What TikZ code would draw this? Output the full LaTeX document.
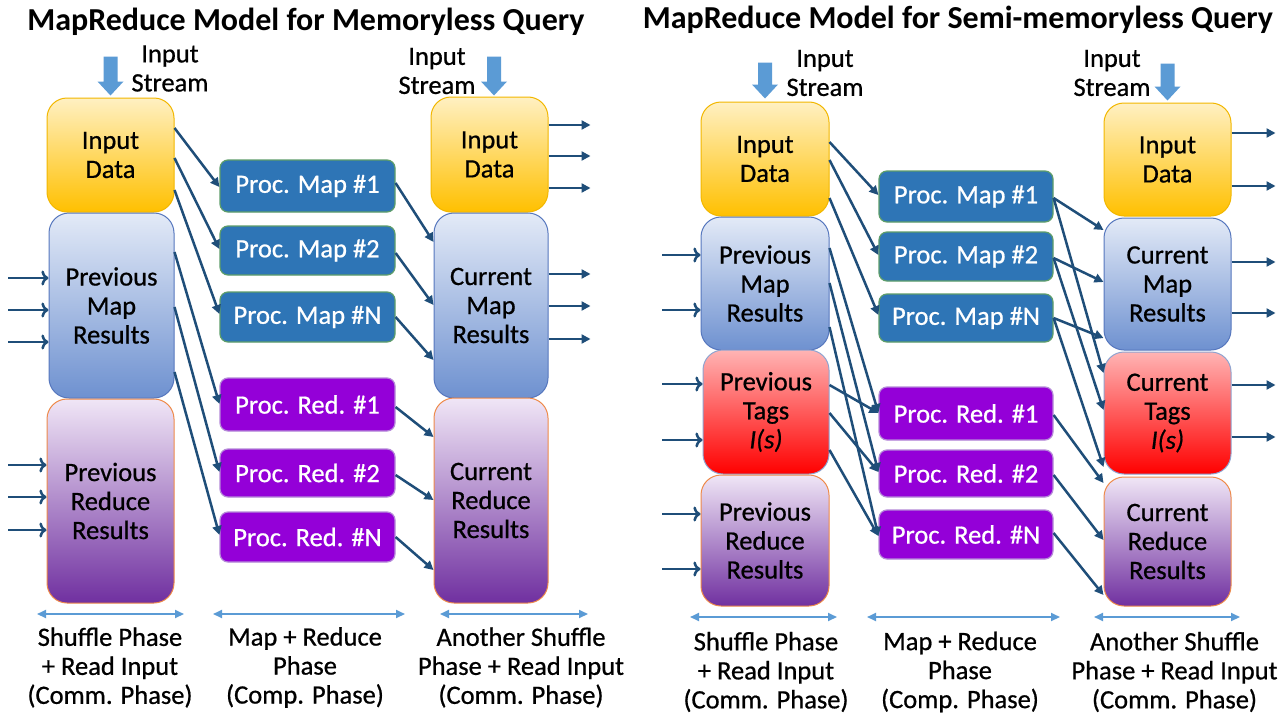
\documentclass[tikz,border=0pt]{standalone}
\usepackage{fontspec}
\setmainfont{Carlito}
\newfontfamily\heavy{Carlito}[FakeBold=0.7]
\usetikzlibrary{arrows.meta}
\definecolor{conncol}{HTML}{1F4E79}
\definecolor{phasec}{HTML}{5B9BD5}
\definecolor{mapfill}{HTML}{2E75B6}
\definecolor{mapdraw}{HTML}{5E9E6A}
\definecolor{redfill}{HTML}{9400D8}
\definecolor{reddraw}{HTML}{B58AD8}
\definecolor{ytop}{HTML}{FFF0C2}
\definecolor{ybot}{HTML}{FFC000}
\definecolor{ydraw}{HTML}{F2B700}
\definecolor{btop}{HTML}{E3EAF7}
\definecolor{bbot}{HTML}{6E91D0}
\definecolor{bdraw}{HTML}{5677BE}
\definecolor{ptop}{HTML}{F0E6F6}
\definecolor{pbot}{HTML}{7030A0}
\definecolor{pdraw}{HTML}{EE8A4A}
\definecolor{rtop}{HTML}{FFB4B4}
\definecolor{rbot}{HTML}{FF0000}
\definecolor{rdraw}{HTML}{8FA4D0}
\begin{document}
\begin{tikzpicture}[x=1pt,y=-1pt,
  txt/.style={font=\heavy\fontsize{26.5}{29}\selectfont, align=center},
  big/.style={txt, rounded corners=20pt, line width=1pt, inner sep=0pt},
  ybox/.style={big, draw=ydraw, top color=ytop, bottom color=ybot},
  bbox/.style={big, draw=bdraw, top color=btop, bottom color=bbot},
  pbox/.style={big, draw=pdraw, top color=ptop, bottom color=pbot},
  rbox/.style={big, draw=rdraw, top color=rtop, bottom color=rbot},
  proc/.style={txt, text=white, rounded corners=8pt, line width=1.2pt, minimum width=175pt, inner sep=0pt},
  mapbox/.style={proc, draw=mapdraw, fill=mapfill},
  redbox/.style={proc, draw=reddraw, fill=redfill},
  conn/.style={draw=conncol, line width=2.5pt, -{Triangle[length=9pt,width=9pt]}},
  phase/.style={draw=phasec, line width=2pt, {Triangle[length=9pt,width=8pt]}-{Triangle[length=9pt,width=8pt]}},
  title/.style={font=\bfseries\fontsize{32}{36}\selectfont},
  stream/.style={fill=phasec},
]
\useasboundingbox (0,0) rectangle (1280,720);
\fill[white] (0,0) rectangle (1280,720);

% ================= Diagram 1 =================
\node[title] (t1) at (306,22) {MapReduce Model for Memoryless Query};

\node[ybox, minimum width=127pt, minimum height=114pt] (aL1) at (110.5,155) {Input\\Data};
\node[bbox, minimum width=125pt, minimum height=185pt] (aL2) at (111.5,305.5) {Previous\\Map\\Results};
\node[pbox, minimum width=127pt, minimum height=204pt] (aL3) at (110.5,501) {Previous\\Reduce\\Results};

\node[mapbox, minimum height=52pt] (aM1) at (307.5,186) {Proc. Map \#1};
\node[mapbox, minimum height=49pt] (aM2) at (307.5,250.5) {Proc. Map \#2};
\node[mapbox, minimum height=50pt] (aMN) at (307.5,317) {Proc. Map \#N};
\node[redbox, minimum height=53pt] (aR1) at (307.5,404.5) {Proc. Red. \#1};
\node[redbox, minimum height=48pt] (aR2) at (307.5,473) {Proc. Red. \#2};
\node[redbox, minimum height=50pt] (aRN) at (307.5,537) {Proc. Red. \#N};

\node[ybox, minimum width=117pt, minimum height=115pt] (aC1) at (489.5,154.5) {Input\\Data};
\node[bbox, minimum width=114pt, minimum height=185pt] (aC2) at (491,305.5) {Current\\Map\\Results};
\node[pbox, minimum width=114pt, minimum height=205pt] (aC3) at (491,500.5) {Current\\Reduce\\Results};

% input stream arrows
\fill[stream] (aL1.north) ++(0,-2) -- ++(-13,-14) -- ++(6,0) -- ++(0,-25) -- ++(14,0) -- ++(0,25) -- ++(6,0) -- cycle;
\node[txt] (aS1) at (170,68.5) {Input\\Stream};
\fill[stream] (aC1.north -| 494,0) ++(0,-1) -- ++(-13,-14) -- ++(6,0) -- ++(0,-25) -- ++(14,0) -- ++(0,25) -- ++(6,0) -- cycle;
\node[txt] (aS2) at (437,71) {Input\\Stream};

% connectors left
\draw[conn] (aL1.east |- 0,128) -- (aM1.west |- 0,187);
\draw[conn] (aL1.east |- 0,158) -- (aM2.west |- 0,249);
\draw[conn] (aL1.east |- 0,190) -- (aMN.west |- 0,314);
\draw[conn] (aL2.east |- 0,252) -- (aR1.west |- 0,404);
\draw[conn] (aL2.east |- 0,307) -- (aR2.west |- 0,472);
\draw[conn] (aL2.east |- 0,372) -- (aRN.west |- 0,535);
% connectors right
\draw[conn] (aM1.east |- 0,183) -- (aC2.west |- 0,242);
\draw[conn] (aM2.east |- 0,253) -- (aC2.west |- 0,305);
\draw[conn] (aMN.east |- 0,317) -- (aC2.west |- 0,360);
\draw[conn] (aR1.east |- 0,407) -- (aC3.west |- 0,437);
\draw[conn] (aR2.east |- 0,475) -- (aC3.west |- 0,500);
\draw[conn] (aRN.east |- 0,537) -- (aC3.west |- 0,570);
% incoming
\foreach \yy in {278,310,342} \draw[conn,<-] (aL2.west |- 0,\yy) -- ++(-41,0);
\foreach \yy in {465,497,530} \draw[conn,<-] (aL3.west |- 0,\yy) -- ++(-39,0);
% outgoing
\foreach \yy in {125,156,188} \draw[conn] (aC1.east |- 0,\yy) -- ++(42,0);
\foreach \yy in {274,306,339} \draw[conn] (aC2.east |- 0,\yy) -- ++(42,0);

% phases
\draw[phase] (37,614) -- (184,614);
\draw[phase] (213,614) -- (405,614);
\draw[phase] (440,614) -- (588,614);
\node[txt] (aP1) at (110,667.5) {Shuffle Phase\\+ Read Input\\(Comm. Phase)};
\node[txt] (aP2) at (305,667.5) {Map + Reduce\\Phase\\(Comp. Phase)};
\node[txt] (aP3) at (521,667.5) {Another Shuffle\\Phase + Read Input\\(Comm. Phase)};

% ================= Diagram 2 =================
\node[title] (t2) at (958,20) {MapReduce Model for Semi-memoryless Query};

\node[ybox, minimum width=128pt, minimum height=114pt] (bL1) at (765,159) {Input\\Data};
\node[bbox, minimum width=128pt, minimum height=133pt] (bL2) at (765,283.5) {Previous\\Map\\Results};
\node[rbox, minimum width=126pt, minimum height=124pt] (bL3) at (766,412) {Previous\\Tags\\\textit{I(s)}};
\node[pbox, minimum width=128pt, minimum height=131pt] (bL4) at (765,540.5) {Previous\\Reduce\\Results};

\node[mapbox, minimum width=174pt, minimum height=51pt] (bM1) at (966,196.5) {Proc. Map \#1};
\node[mapbox, minimum width=174pt, minimum height=49pt] (bM2) at (966,256.5) {Proc. Map \#2};
\node[mapbox, minimum width=174pt, minimum height=48pt] (bMN) at (966,318) {Proc. Map \#N};
\node[redbox, minimum width=174pt, minimum height=53pt] (bR1) at (966,413.5) {Proc. Red. \#1};
\node[redbox, minimum width=174pt, minimum height=47pt] (bR2) at (966,473.5) {Proc. Red. \#2};
\node[redbox, minimum width=174pt, minimum height=49pt] (bRN) at (966,534.5) {Proc. Red. \#N};

\node[ybox, minimum width=127pt, minimum height=113pt] (bC1) at (1167.5,159.5) {Input\\Data};
\node[bbox, minimum width=127pt, minimum height=132pt] (bC2) at (1167.5,284) {Current\\Map\\Results};
\node[rbox, minimum width=127pt, minimum height=122pt] (bC3) at (1167.5,413) {Current\\Tags\\\textit{I(s)}};
\node[pbox, minimum width=127pt, minimum height=129pt] (bC4) at (1167.5,541.5) {Current\\Reduce\\Results};

\fill[stream] (bL1.north) ++(0,-3) -- ++(-13,-14) -- ++(6,0) -- ++(0,-22) -- ++(14,0) -- ++(0,22) -- ++(6,0) -- cycle;
\node[txt] (bS1) at (825,73) {Input\\Stream};
\fill[stream] (bC1.north) ++(0,-2) -- ++(-13,-14) -- ++(6,0) -- ++(0,-23) -- ++(14,0) -- ++(0,23) -- ++(6,0) -- cycle;
\node[txt] (bS2) at (1112,73) {Input\\Stream};

% connectors left
\draw[conn] (bL1.east |- 0,142) -- (bM1.west |- 0,195);
\draw[conn] (bL1.east |- 0,160) -- (bM2.west |- 0,255);
\draw[conn] (bL1.east |- 0,198) -- (bMN.west |- 0,315);
\draw[conn] (bL2.east |- 0,248) -- (bR1.west |- 0,413);
\draw[conn] (bL2.east |- 0,283) -- (bR2.west |- 0,472);
\draw[conn] (bL2.east |- 0,327) -- (bRN.west |- 0,536);
\draw[conn] (bL3.east |- 0,385) -- (bR1.west |- 0,413);
\draw[conn] (bL3.east |- 0,413) -- (bR2.west |- 0,472);
\draw[conn] (bL3.east |- 0,450) -- (bRN.west |- 0,536);
% connectors right
\draw[conn] (bM1.east |- 0,198) -- (bC2.west |- 0,230);
\draw[conn] (bM1.east |- 0,198) -- (bC3.west |- 0,373);
\draw[conn] (bM2.east |- 0,258) -- (bC2.west |- 0,282);
\draw[conn] (bM2.east |- 0,258) -- (bC3.west |- 0,410);
\draw[conn] (bMN.east |- 0,318) -- (bC2.west |- 0,338);
\draw[conn] (bMN.east |- 0,318) -- (bC3.west |- 0,467);
\draw[conn] (bR1.east |- 0,415) -- (bC4.west |- 0,483);
\draw[conn] (bR2.east |- 0,475) -- (bC4.west |- 0,540);
\draw[conn] (bRN.east |- 0,533) -- (bC4.west |- 0,595);
% incoming
\foreach \yy in {255,310} \draw[conn,<-] (bL2.west |- 0,\yy) -- ++(-39,0);
\foreach \yy in {384,440} \draw[conn,<-] (bL3.west |- 0,\yy) -- ++(-41,0);
\foreach \yy in {514,569} \draw[conn,<-] (bL4.west |- 0,\yy) -- ++(-39,0);
% outgoing
\foreach \yy in {133,186} \draw[conn] (bC1.east |- 0,\yy) -- ++(44,0);
\foreach \yy in {262,313} \draw[conn] (bC2.east |- 0,\yy) -- ++(44,0);
\foreach \yy in {385,437} \draw[conn] (bC3.east |- 0,\yy) -- ++(44,0);

% phases
\draw[phase] (690,617) -- (837,617);
\draw[phase] (867,617) -- (1060,617);
\draw[phase] (1094,617) -- (1240,617);
\node[txt] (bP1) at (766,672) {Shuffle Phase\\+ Read Input\\(Comm. Phase)};
\node[txt] (bP2) at (960,672) {Map + Reduce\\Phase\\(Comp. Phase)};
\node[txt] (bP3) at (1174.5,672) {Another Shuffle\\Phase + Read Input\\(Comm. Phase)};
\end{tikzpicture}
\end{document}
